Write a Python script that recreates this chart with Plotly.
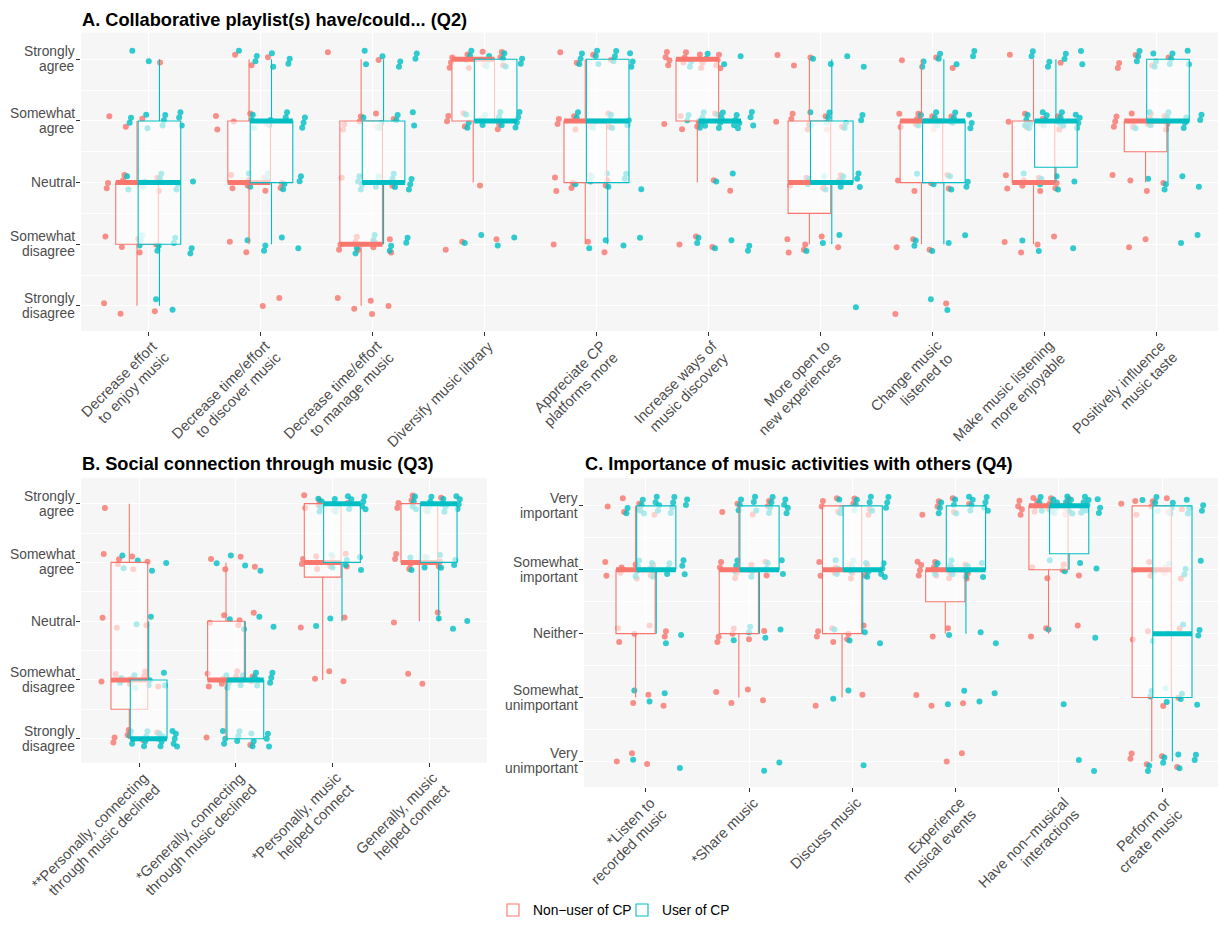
import numpy as np
import plotly.graph_objects as go

FONT = "Liberation Sans, Arial, Helvetica, sans-serif"
RED = "#F8766D"
BLUE = "#00BFC4"
GROUPS = ["Non\u2212user of CP", "User of CP"]

AGREE_LABELS = ["Strongly<br>disagree", "Somewhat<br>disagree", "Neutral",
                "Somewhat<br>agree", "Strongly<br>agree"]
IMPORTANCE_LABELS = ["Very<br>unimportant", "Somewhat<br>unimportant", "Neither",
                     "Somewhat<br>important", "Very<br>important"]

# ---- Panel A: counts of responses at levels 1..5 (Strongly disagree .. Strongly agree)
A_ITEMS = ["Decrease effort<br>to enjoy music", "Decrease time/effort<br>to discover music",
           "Decrease time/effort<br>to manage music", "Diversify music library",
           "Appreciate CP<br>platforms more", "Increase ways of<br>music discovery",
           "More open to<br>new experiences", "Change music<br>listened to",
           "Make music listening<br>more enjoyable", "Positively influence<br>music taste"]
A_NONUSER = [[3, 5, 7, 3, 1], [2, 2, 8, 5, 3], [5, 9, 2, 7, 2], [0, 3, 1, 7, 12],
             [0, 3, 7, 8, 4], [0, 3, 2, 6, 14], [0, 6, 6, 8, 3], [2, 3, 5, 10, 3],
             [0, 4, 8, 7, 2], [0, 2, 4, 12, 5]]
A_USER = [[2, 9, 9, 10, 2], [0, 5, 8, 10, 7], [0, 8, 13, 7, 7], [0, 4, 0, 13, 10],
          [0, 4, 8, 9, 12], [0, 6, 2, 20, 6], [1, 3, 10, 9, 4], [2, 5, 6, 12, 7],
          [0, 3, 6, 17, 8], [0, 2, 5, 11, 11]]

# ---- Panel B
B_ITEMS = ["**Personally, connecting<br>through music declined",
           "*Generally, connecting<br>through music declined",
           "*Personally, music<br>helped connect", "Generally, music<br>helped connect"]
B_NONUSER = [[6, 7, 3, 6, 1], [2, 8, 5, 4, 0], [0, 3, 2, 9, 6], [0, 2, 2, 8, 7]]
B_USER = [[18, 8, 2, 5, 0], [12, 13, 4, 4, 0], [0, 0, 2, 7, 16], [0, 0, 3, 9, 16]]

# ---- Panel C (Very unimportant .. Very important)
C_ITEMS = ["*Listen to<br>recorded music", "*Share music", "Discuss music",
           "Experience<br>musical events", "Have non\u2212musical<br>interactions",
           "Perform or<br>create music"]
C_NONUSER = [[3, 3, 6, 9, 6], [0, 4, 6, 8, 5], [0, 2, 7, 10, 8], [2, 3, 2, 14, 6],
             [0, 0, 3, 5, 17], [5, 2, 3, 6, 8]]
C_USER = [[2, 3, 2, 14, 16], [2, 0, 5, 9, 14], [1, 2, 4, 13, 12], [0, 4, 3, 11, 14],
          [2, 1, 2, 4, 25], [8, 7, 5, 5, 12]]

TITLES = ["A. Collaborative playlist(s) have/could... (Q2)",
          "B. Social connection through music (Q3)",
          "C. Importance of music activities with others (Q4)"]

LEVELS = np.arange(1, 6)

# page layout (browser body has an 8px margin, so the figure is shifted)
OFF = 8
FW, FH = 1226 - OFF, 926 - OFF
DODGE = 0.1
BOXW = 0.38
JW = 0.3
JH = 0.15

# deterministic low-discrepancy jitter (visual spreading only)
G1 = 0.7548776662466927
G2 = 0.5698402909980532


def jitter(n, seed):
    k = np.arange(n) + 1 + seed * 13
    return ((0.5 + k * G1) % 1.0) - 0.5, ((0.5 + k * G2) % 1.0) - 0.5


def px_x(p):
    return (p - OFF) / FW


def px_y(p):
    return 1 - (p - OFF) / FH


fig = go.Figure()

# (xaxis, yaxis, items, non-users, users, ylabels, x-domain px, y-domain px, title pos)
panels = [
    ("x", "y", A_ITEMS, A_NONUSER, A_USER, AGREE_LABELS, (81, 1224), (33, 333), (81, 20)),
    ("x2", "y2", B_ITEMS, B_NONUSER, B_USER, AGREE_LABELS, (81, 487), (482, 768), (81, 468)),
    ("x3", "y3", C_ITEMS, C_NONUSER, C_USER, IMPORTANCE_LABELS, (584, 1224), (482, 793), (584, 468)),
]

for pi, (xa, ya, items, nonuser, user, _, _, _, _) in enumerate(panels):
    for g, (counts_list, color) in enumerate(((nonuser, RED), (user, BLUE))):
        ptx, pty = [], []
        pos, q1s, meds, q3s, lfs, ufs = [], [], [], [], [], []
        mx, my = [], []
        for i, counts in enumerate(counts_list):
            vals = np.repeat(LEVELS, counts).astype(float)
            center = i + 1 + (2 * g - 1) * DODGE
            ju, jv = jitter(len(vals), pi * 31 + i * 7 + g * 3)
            ptx.extend((center + ju * 2 * JW).tolist())
            pty.extend((vals + jv * 2 * JH).tolist())
            q1, med, q3 = np.percentile(vals, [25, 50, 75])
            iqr = q3 - q1
            lf = vals[vals >= q1 - 1.5 * iqr].min()
            uf = vals[vals <= q3 + 1.5 * iqr].max()
            pos.append(center)
            q1s.append(q1)
            meds.append(med)
            q3s.append(q3)
            lfs.append(lf)
            ufs.append(uf)
            mx += [center - BOXW / 2, center + BOXW / 2, None]
            my += [med, med, None]
        fig.add_trace(go.Scatter(
            x=ptx, y=pty, mode="markers", xaxis=xa, yaxis=ya,
            marker=dict(color=color, size=6, opacity=0.8, line=dict(width=0)),
            showlegend=False, hoverinfo="skip", zorder=0))
        fig.add_trace(go.Box(
            x=pos, q1=q1s, median=meds, q3=q3s, lowerfence=lfs, upperfence=ufs,
            orientation="v", width=BOXW, whiskerwidth=0, boxpoints=False,
            fillcolor="rgba(255,255,255,0.6)", line=dict(color=color, width=1.1),
            xaxis=xa, yaxis=ya, name=GROUPS[g], legendgroup=GROUPS[g],
            showlegend=(pi == 0), hoverinfo="skip", zorder=1 + 2 * g))
        fig.add_trace(go.Scatter(
            x=mx, y=my, mode="lines", xaxis=xa, yaxis=ya,
            line=dict(color=color, width=5), showlegend=False, hoverinfo="skip",
            legendgroup=GROUPS[g], zorder=2 + 2 * g))

TICK_FS = 13.8
XTICK_FS = 14.6
TITLE_FS = 18.2
TEXT_COL = "#4D4D4D"
Y_LS = 15.0     # line spacing for y labels (px)
X_LS = 16.5     # line spacing for x labels (px)
X_DX0, X_DY0 = 1.0, 6.0
X_BOXH = 1.2 * XTICK_FS

layout_axes = {}
annotations = []
for pi, (xa, ya, items, _, _, ylabels, xd, yd, tpos) in enumerate(panels):
    xkey = "xaxis" + ("" if pi == 0 else str(pi + 1))
    ykey = "yaxis" + ("" if pi == 0 else str(pi + 1))
    layout_axes[xkey] = dict(
        domain=[px_x(xd[0]), px_x(xd[1])], anchor=ya,
        range=[0.4, len(items) + 0.6], tickmode="array",
        tickvals=list(range(1, len(items) + 1)), showticklabels=False,
        ticks="outside", ticklen=4, tickcolor="#333333", tickwidth=1,
        showgrid=True, gridcolor="white", gridwidth=1.1, zeroline=False,
        showline=False, automargin=False, fixedrange=True)
    layout_axes[ykey] = dict(
        domain=[px_y(yd[1]), px_y(yd[0])], anchor=xa,
        range=[0.6, 5.43], tickmode="array", tickvals=[1, 2, 3, 4, 5],
        showticklabels=False, ticks="outside", ticklen=4, tickcolor="#333333",
        tickwidth=1, showgrid=True, gridcolor="white", gridwidth=1.1,
        zeroline=False, showline=False, automargin=False, fixedrange=True,
        minor=dict(tickvals=[1.5, 2.5, 3.5, 4.5], showgrid=True,
                   gridcolor="white", gridwidth=0.5, ticks=""))
    # y tick labels (right aligned, tight line spacing)
    for lv, lab in zip(LEVELS, ylabels):
        lines = lab.split("<br>")
        n = len(lines)
        for j, ln in enumerate(lines):
            annotations.append(dict(
                text=ln, xref="paper", yref=ya, x=px_x(xd[0] - 5.5), y=float(lv),
                xanchor="right", yanchor="middle", yshift=((n - 1) / 2 - j) * Y_LS,
                showarrow=False, borderpad=0,
                font=dict(family=FONT, size=TICK_FS, color=TEXT_COL)))
    # x tick labels rotated 45 degrees, right aligned at the tick
    for ci, lab in enumerate(items):
        for j, ln in enumerate(lab.split("<br>")):
            dx = X_DX0 + j * X_LS * 0.7071 + 0.7071 * X_BOXH
            dy = X_DY0 + j * X_LS * 0.7071
            annotations.append(dict(
                text=ln, xref=xa, yref="paper", x=ci + 1, y=px_y(yd[1]),
                xanchor="right", yanchor="top", xshift=dx, yshift=-dy,
                textangle=-45, showarrow=False, borderpad=0,
                font=dict(family=FONT, size=XTICK_FS, color=TEXT_COL)))
    # panel title
    annotations.append(dict(
        text="<b>" + TITLES[pi] + "</b>", xref="paper", yref="paper",
        x=px_x(tpos[0]), y=px_y(tpos[1]), xanchor="left", yanchor="middle",
        showarrow=False, borderpad=0,
        font=dict(family=FONT, size=TITLE_FS, color="black")))

fig.update_layout(
    width=FW, height=FH, autosize=False,
    margin=dict(l=0, r=0, t=0, b=0),
    paper_bgcolor="white", plot_bgcolor="#F6F6F6",
    font=dict(family=FONT, color=TEXT_COL),
    boxmode="overlay",
    legend=dict(orientation="h", x=px_x(622), xanchor="center", y=px_y(917),
                yanchor="middle", font=dict(family=FONT, size=13.8, color="black"),
                bgcolor="rgba(0,0,0,0)", itemwidth=30, entrywidth=84,
                entrywidthmode="pixels"),
    showlegend=True,
    annotations=annotations,
    **layout_axes,
)

fig.write_html("out.html")
